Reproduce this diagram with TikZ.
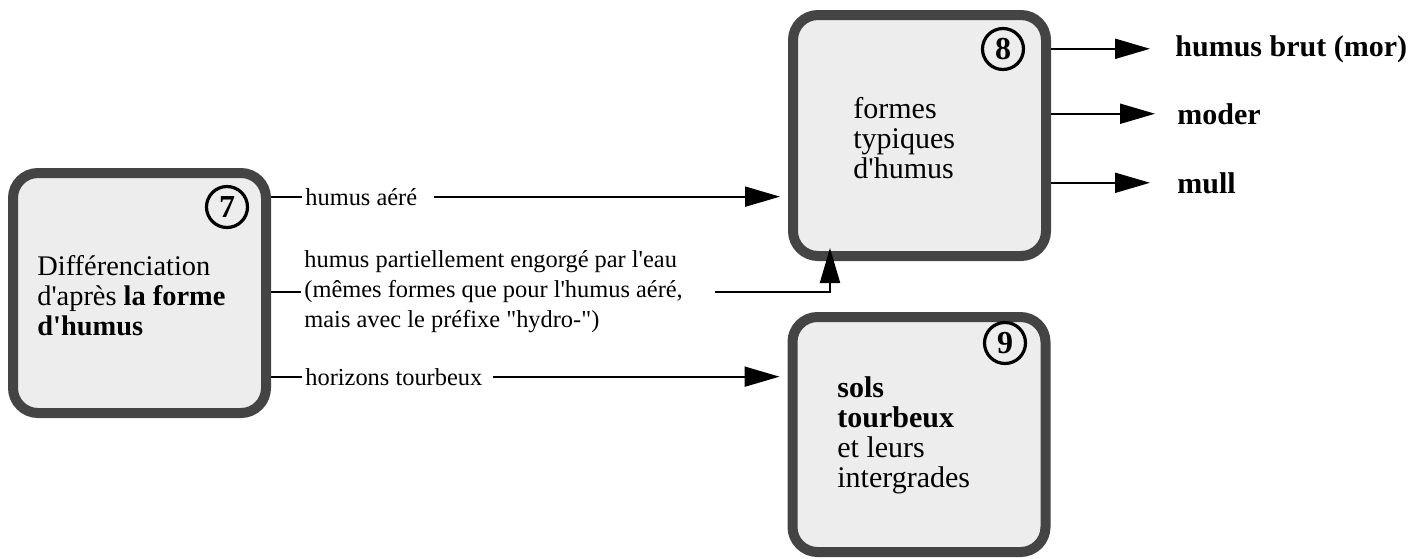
\documentclass[tikz,border=0pt]{standalone}
\usepackage{fontspec}
\setmainfont{Liberation Serif}[Ligatures=TeXOff]
\usetikzlibrary{arrows.meta}
\definecolor{boxgray}{HTML}{444444}
\definecolor{boxfill}{HTML}{EDEDED}

\begin{document}
\begin{tikzpicture}[
  x=0.5pt, y=-0.5pt,
  bloc/.style={draw=boxgray, fill=boxfill, line width=5pt, rounded corners=12.5pt,
    inner sep=0pt, minimum width=126.5pt},
  num/.style={draw, circle, line width=1.6pt, minimum size=20.5pt, inner sep=0pt,
    font=\fontsize{16}{16}\selectfont\bfseries},
  lbl/.style={anchor=base west, inner sep=0pt, align=left,
    font=\fontsize{12.2}{14.8}\selectfont},
  big/.style={anchor=base west, inner sep=0pt, align=left,
    font=\fontsize{15}{15}\selectfont},
  sortie/.style={anchor=base west, inner sep=0pt, font=\fontsize{15}{15}\selectfont\bfseries},
  conn/.style={line width=1pt},
  fleche/.style={conn, -{Triangle[length=17.5pt,width=10pt]}},
]

\useasboundingbox (0,0) rectangle (1426,558);

\node [bloc, minimum height=120pt] (b7) at (139.5,293) {};
\node [bloc, minimum height=120.5pt] (b8) at (919.5,135.5) {};
\node [bloc, minimum height=117.5pt] (b9) at (919,434.5) {};

\node [num] (c7) at (227,207) {7};
\node [num] (c8) at (1003,49) {8};
\node [num] (c9) at (1005,343) {9};

\node [big, font=\fontsize{14.2}{15}\selectfont] (t7) at (37,335)
  {Différenciation\\d'après \textbf{la forme}\\\textbf{d'humus}};
\node [big] (t8) at (853,178) {formes\\typiques\\d'humus};
\node [big] (t9) at (837,487) {\textbf{sols}\\\textbf{tourbeux}\\et leurs\\intergrades};

\node [lbl] (aere) at (305,205) {humus aéré};
\node [lbl] (engorge) at (304,327)
  {humus partiellement engorgé par l'eau\\(mêmes formes que pour l'humus aéré,\\mais avec le préfixe "hydro-")};
\node [lbl] (tourbe) at (305,385) {horizons tourbeux};

\node [sortie] (mor) at (1175,56) {humus brut (mor)};
\node [sortie] (moder) at (1177,124) {moder};
\node [sortie] (mull) at (1177,193) {mull};

\draw [conn] (aere -| b7.east) -- ([xshift=-1.5pt]aere.west);
\draw [conn] (engorge -| b7.east) -- ([xshift=-1.5pt]engorge.west);
\draw [conn] (tourbe -| b7.east) -- ([xshift=-1.5pt]tourbe.west);

\draw [fleche, shorten >=4pt] ([xshift=8pt]aere.east) -- (aere -| b8.west);
\draw [fleche] ([xshift=16pt]engorge.east) -| ([xshift=21pt,yshift=6.5pt]b8.south west);
\draw [fleche, shorten >=4pt] ([xshift=5pt]tourbe.east) -- (tourbe -| b9.west);

\draw [fleche] (mor -| b8.east) -- ([xshift=-12.5pt]mor.west);
\draw [fleche] (moder -| b8.east) -- ([xshift=-11pt]moder.west);
\draw [fleche] (mull -| b8.east) -- ([xshift=-13.5pt]mull.west);

\end{tikzpicture}
\end{document}
